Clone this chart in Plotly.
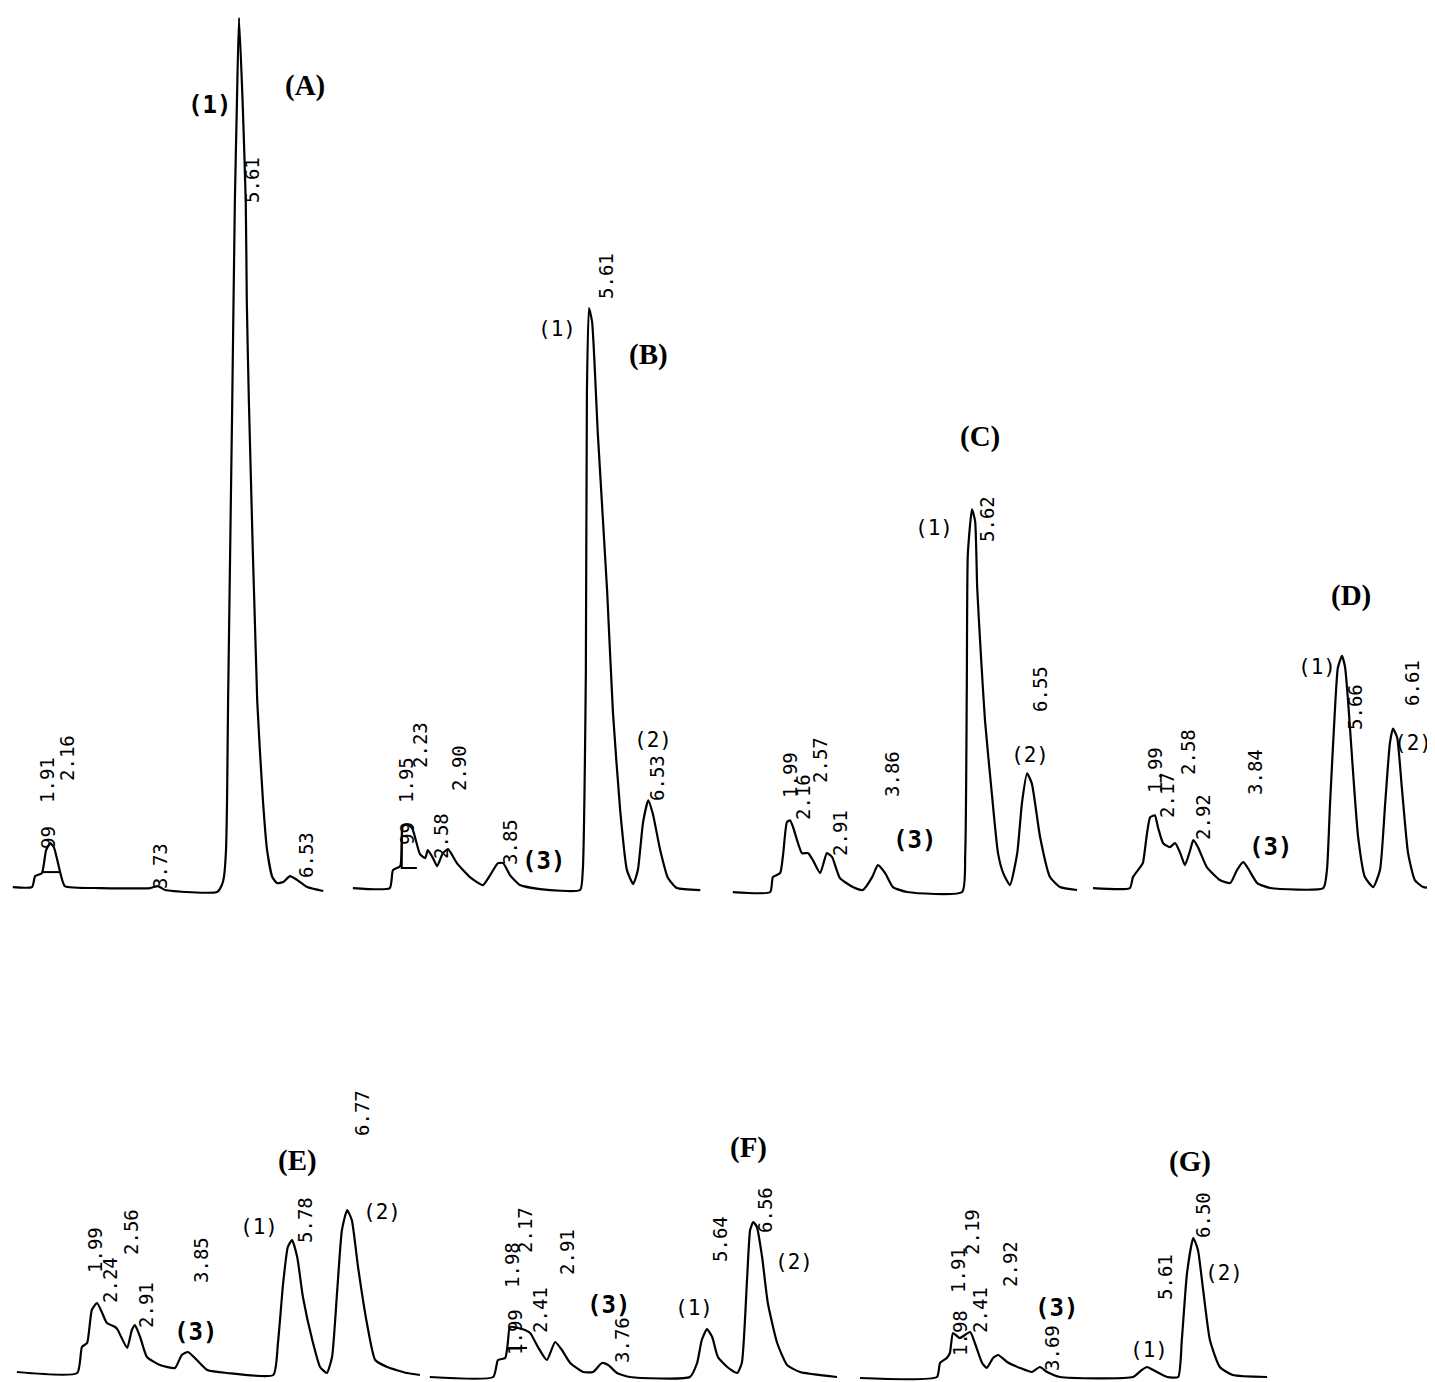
import plotly.graph_objects as go

# ------------------------------------------------------------------
# DATA  (retention time in min, detector signal in arbitrary units)
# ------------------------------------------------------------------
a_time = [1.26, 1.63, 1.69, 1.82, 1.90, 1.98, 2.05, 2.17, 2.26, 2.94, 3.90, 4.05, 4.19, 5.19, 5.28,
          5.32, 5.36, 5.38, 5.40, 5.48, 5.53, 5.57, 5.61, 5.68, 5.74, 5.76, 5.80, 5.96, 6.07, 6.15,
          6.25, 6.34, 6.46, 6.59, 6.73, 6.92, 7.23]
a_signal = [1, 1, 12, 15, 38, 45, 41, 16, 2, 0, 0, 2, -2, -4, 3,
            11, 38, 88, 188, 488, 688, 788, 873, 788, 688, 588, 488, 188, 88, 38,
            11, 5, 6, 12, 8, 1, -3]

b_time = [1.07, 1.78, 1.84, 1.98, 2.03, 2.11, 2.21, 2.36, 2.46, 2.51, 2.61, 2.69, 2.80, 2.90, 3.07,
          3.32, 3.57, 3.71, 3.86, 3.96, 4.09, 4.28, 4.67, 5.44, 5.49, 5.55, 5.57, 5.61, 5.67, 5.78,
          5.96, 6.07, 6.21, 6.34, 6.46, 6.55, 6.65, 6.75, 6.84, 6.98, 7.13, 7.30, 7.75]
b_signal = [0, 0, 18, 22, 62, 64, 60, 34, 30, 38, 30, 22, 35, 39, 25,
            11, 3, 13, 25, 25, 13, 3, -1, -2, 17, 217, 496, 582, 568, 456,
            297, 177, 78, 18, 4, 18, 66, 88, 74, 38, 10, 0, -2]

c_time = [1.02, 1.74, 1.79, 1.93, 1.99, 2.06, 2.12, 2.18, 2.35, 2.47, 2.56, 2.70, 2.83, 2.93, 3.08,
          3.33, 3.52, 3.70, 3.81, 3.95, 4.10, 4.37, 5.43, 5.49, 5.52, 5.54, 5.62, 5.68, 5.72, 5.79,
          5.87, 5.99, 6.12, 6.22, 6.35, 6.49, 6.58, 6.68, 6.77, 6.93, 7.12, 7.31, 7.64]
c_signal = [-2, -2, 13, 17, 37, 68, 70, 63, 37, 37, 30, 17, 37, 33, 12,
            3, 0, 13, 25, 17, 3, -2, -2, 37, 203, 337, 382, 370, 303, 237,
            170, 103, 37, 17, 5, 37, 87, 117, 107, 53, 13, 3, 0]

d_time = [0.87, 1.58, 1.64, 1.78, 1.83, 1.91, 1.97, 2.06, 2.12, 2.22, 2.35, 2.45, 2.55, 2.64, 2.74,
          2.80, 2.89, 3.06, 3.31, 3.51, 3.64, 3.76, 3.85, 4.03, 4.28, 5.30, 5.37, 5.43, 5.53, 5.58,
          5.66, 5.72, 5.78, 5.87, 5.97, 6.10, 6.26, 6.39, 6.49, 6.58, 6.64, 6.72, 6.81, 6.93, 7.06,
          7.22, 7.41]
d_signal = [0, 0, 11, 21, 25, 55, 71, 73, 61, 45, 41, 45, 35, 23, 38,
            48, 41, 21, 8, 5, 18, 26, 20, 5, 0, 0, 18, 85, 185, 221,
            233, 221, 185, 118, 51, 11, 1, 18, 85, 145, 160, 151, 101, 35, 8,
            1, 0]

e_time = [0.49, 1.65, 1.74, 1.84, 1.93, 2.03, 2.13, 2.22, 2.38, 2.43, 2.61, 2.70, 2.76, 2.86, 2.99,
          3.24, 3.53, 3.66, 3.78, 3.95, 4.15, 4.53, 5.42, 5.51, 5.61, 5.70, 5.78, 5.88, 5.99, 6.17,
          6.32, 6.45, 6.55, 6.65, 6.74, 6.84, 6.93, 7.05, 7.22, 7.38, 7.61, 7.99, 8.24]
e_signal = [1, 0, 26, 30, 63, 70, 60, 50, 46, 43, 25, 43, 48, 36, 16,
            8, 5, 18, 21, 13, 3, 0, -2, 30, 90, 126, 133, 116, 76, 33,
            6, 0, 16, 83, 143, 163, 153, 106, 50, 13, 6, 0, -2]

f_time = [0.31, 1.53, 1.62, 1.76, 1.81, 1.85, 2.01, 2.14, 2.24, 2.39, 2.56, 2.72, 2.85, 3.01, 3.26,
          3.45, 3.62, 3.74, 3.91, 4.16, 5.31, 5.45, 5.54, 5.64, 5.74, 5.85, 6.03, 6.22, 6.31, 6.41,
          6.47, 6.53, 6.60, 6.70, 6.81, 6.99, 7.18, 7.43, 8.14]
f_signal = [0, 0, 17, 19, 34, 50, 49, 47, 44, 30, 17, 35, 27, 14, 5,
            5, 14, 12, 4, 0, 0, 14, 37, 48, 40, 20, 10, 4, 14, 97,
            147, 155, 150, 120, 74, 34, 12, 5, 0]

g_time = [0.09, 1.57, 1.63, 1.76, 1.82, 1.88, 2.01, 2.21, 2.30, 2.44, 2.53, 2.65, 2.75, 2.92, 3.17,
          3.40, 3.55, 3.69, 3.94, 5.34, 5.51, 5.61, 5.73, 6.00, 6.21, 6.28, 6.38, 6.50, 6.59, 6.69,
          6.82, 7.01, 7.26, 7.92]
g_signal = [-1, 0, 14, 19, 24, 44, 39, 45, 34, 14, 9, 19, 22, 15, 9,
            5, 10, 5, 0, 0, 7, 10, 7, 0, 0, 37, 104, 139, 127, 87,
            37, 10, 2, 0]

# integrator baseline marks drawn under the first peak cluster
a_base_time = [1.82, 2.17]
a_base_signal = [16, 16]
b_base_time = [2.01, 2.01, 2.30]
b_base_signal = [58, 20, 20]
f_base_time = [1.79, 2.18]
f_base_signal = [29, 29]

# retention-time labels printed by the integrator
a_rt = ["1.91", "2.16", "99", "3.73", "5.61", "6.53"]
b_rt = ["1.95", "2.23", "99", "2.58", "2.90", "3.85", "5.61", "6.53"]
c_rt = ["1.99", "2.16", "2.57", "2.91", "3.86", "5.62", "6.55"]
d_rt = ["1.99", "2.17", "2.58", "2.92", "3.84", "5.66", "6.61"]
e_rt = ["1.99", "2.24", "2.56", "2.91", "3.85", "5.78", "6.77"]
f_rt = ["1.98", "2.17", "1.99", "2.41", "2.91", "3.76", "5.64", "6.56"]
g_rt = ["1.91", "2.19", "1.98", "2.41", "2.92", "3.69", "5.61", "6.50"]

panel_names = ["(A)", "(B)", "(C)", "(D)", "(E)", "(F)", "(G)"]

# ------------------------------------------------------------------
# LAYOUT  (positions given in page pixels)
# ------------------------------------------------------------------
W, H = 1435, 1382
PAGE_OFFSET = 8            # default body margin of the page
PX_PER_MIN = 52
ROWS = {0: (5, 900), 1: (1030, 1382)}   # pixel band (top, bottom) of each row

panels = [
    dict(t=a_time, s=a_signal, rt=a_rt, xdom=(10, 330), t0=1.206, base=888, row=0,
         bt=a_base_time, bs=a_base_signal,
         rt_pos=[(47, 780), (67, 758), (48, 838), (160, 866), (252, 180), (306, 855)],
         name_pos=(305, 85),
         peaks=[("(1)", 209, 105, True)]),
    dict(t=b_time, s=b_signal, rt=b_rt, xdom=(345, 710), t0=0.918, base=888, row=0,
         bt=b_base_time, bs=b_base_signal,
         rt_pos=[(406, 780), (420, 745), (407, 834), (441, 836), (459, 768), (510, 842),
                 (606, 276), (657, 778)],
         name_pos=(648, 354),
         peaks=[("(1)", 557, 329, False), ("(2)", 653, 740, False), ("(3)", 543, 861, True)]),
    dict(t=c_time, s=c_signal, rt=c_rt, xdom=(725, 1085), t0=0.870, base=890, row=0,
         bt=None, bs=None,
         rt_pos=[(790, 775), (803, 797), (820, 760), (840, 833), (892, 774), (987, 519),
                 (1040, 689)],
         name_pos=(980, 437),
         peaks=[("(1)", 934, 528, False), ("(2)", 1030, 755, False), ("(3)", 915, 840, True)]),
    dict(t=d_time, s=d_signal, rt=d_rt, xdom=(1088, 1435), t0=0.775, base=888, row=0,
         bt=None, bs=None,
         rt_pos=[(1155, 770), (1167, 795), (1188, 752), (1203, 817), (1255, 772), (1355, 707),
                 (1412, 683)],
         name_pos=(1351, 595),
         peaks=[("(1)", 1317, 667, False), ("(2)", 1413, 743, False), ("(3)", 1270, 847, True)]),
    dict(t=e_time, s=e_signal, rt=e_rt, xdom=(10, 430), t0=0.357, base=1373, row=1,
         bt=None, bs=None,
         rt_pos=[(95, 1250), (110, 1280), (131, 1232), (146, 1305), (201, 1260), (305, 1220),
                 (362, 1113)],
         name_pos=(297, 1160),
         peaks=[("(1)", 259, 1227, False), ("(2)", 382, 1212, False), ("(3)", 195, 1332, True)]),
    dict(t=f_time, s=f_signal, rt=f_rt, xdom=(428, 850), t0=0.275, base=1377, row=1,
         bt=f_base_time, bs=f_base_signal,
         rt_pos=[(512, 1265), (525, 1230), (515, 1332), (540, 1310), (567, 1252), (622, 1340),
                 (720, 1239), (765, 1210)],
         name_pos=(748, 1147),
         peaks=[("(1)", 694, 1308, False), ("(2)", 794, 1262, False), ("(3)", 608, 1305, True)]),
    dict(t=g_time, s=g_signal, rt=g_rt, xdom=(855, 1280), t0=-0.005, base=1377, row=1,
         bt=None, bs=None,
         rt_pos=[(958, 1270), (972, 1232), (960, 1333), (980, 1310), (1010, 1264), (1052, 1348),
                 (1165, 1277), (1203, 1215)],
         name_pos=(1190, 1161),
         peaks=[("(1)", 1149, 1350, False), ("(2)", 1224, 1273, False), ("(3)", 1056, 1308, True)]),
]


def px_x(px):
    return (px - PAGE_OFFSET) / W


def px_y(py):
    return 1 - (py - PAGE_OFFSET) / H


fig = go.Figure()
layout = dict(
    width=W, height=H, margin=dict(l=0, r=0, t=0, b=0),
    paper_bgcolor="white", plot_bgcolor="white", showlegend=False,
)
annotations = []

RT_FONT = dict(family="DejaVu Sans Mono", size=19, color="black")
NAME_FONT = dict(family="Liberation Serif", size=29, color="black")

for i, (p, name) in enumerate(zip(panels, panel_names), start=1):
    sfx = "" if i == 1 else str(i)
    fig.add_trace(go.Scatter(
        x=p["t"], y=p["s"], mode="lines",
        line=dict(color="black", width=2.2, shape="spline", smoothing=0.5),
        xaxis="x" + sfx, yaxis="y" + sfx, hoverinfo="skip", name=name,
    ))
    if p["bt"] is not None:
        fig.add_trace(go.Scatter(
            x=p["bt"], y=p["bs"], mode="lines",
            line=dict(color="black", width=2),
            xaxis="x" + sfx, yaxis="y" + sfx, hoverinfo="skip", name=name + " baseline",
        ))
    x0, x1 = p["xdom"]
    ytop, ybot = ROWS[p["row"]]
    layout["xaxis" + sfx] = dict(
        domain=[max(0.0, px_x(x0)), min(1.0, px_x(x1))],
        range=[p["t0"], p["t0"] + (min(x1, W + PAGE_OFFSET) - x0) / PX_PER_MIN],
        visible=False, anchor="y" + sfx, fixedrange=True,
    )
    layout["yaxis" + sfx] = dict(
        domain=[max(0.0, px_y(ybot)), min(1.0, px_y(ytop))],
        range=[p["base"] - ybot, p["base"] - ytop],
        visible=False, anchor="x" + sfx, fixedrange=True,
    )
    for txt, (lx, ly) in zip(p["rt"], p["rt_pos"]):
        annotations.append(dict(
            text=txt, x=px_x(lx), y=px_y(ly), xref="paper", yref="paper",
            showarrow=False, textangle=-90, font=RT_FONT,
            xanchor="center", yanchor="middle",
        ))
    nx, ny = p["name_pos"]
    annotations.append(dict(
        text="<b>%s</b>" % name, x=px_x(nx), y=px_y(ny), xref="paper", yref="paper",
        showarrow=False, font=NAME_FONT, xanchor="center", yanchor="middle",
    ))
    for txt, lx, ly, bold in p["peaks"]:
        annotations.append(dict(
            text=("<b>%s</b>" % txt) if bold else txt,
            x=px_x(lx), y=px_y(ly), xref="paper", yref="paper", showarrow=False,
            font=dict(family="DejaVu Sans Mono", size=24 if bold else 21, color="black"),
            xanchor="center", yanchor="middle",
        ))

layout["annotations"] = annotations
fig.update_layout(**layout)
fig.write_html("out.html")
